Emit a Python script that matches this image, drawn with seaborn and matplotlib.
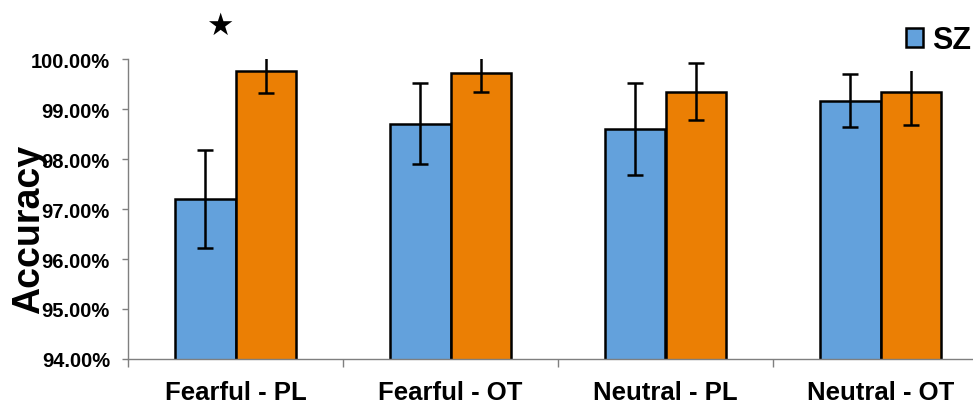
import numpy as np
import pandas as pd
import matplotlib
matplotlib.use("Agg")
import matplotlib.pyplot as plt
import matplotlib.ticker as mticker
from matplotlib.patches import Patch
import seaborn as sns

# данные
conditions = ["Fearful - PL", "Fearful - OT", "Neutral - PL", "Neutral - OT"]
groups = ["SZ", "HC"]
sz_acc = [97.20, 98.71, 98.61, 99.17]
sz_err = [0.98, 0.81, 0.92, 0.53]
hc_acc = [99.77, 99.72, 99.35, 99.35]
hc_err = [0.45, 0.37, 0.57, 0.66]
y_ticks = [94, 95, 96, 97, 98, 99, 100]

blue = "#63A1DC"
orange = "#EB7F04"

df = pd.DataFrame({
    "cond": conditions * 2,
    "group": ["SZ"] * 4 + ["HC"] * 4,
    "acc": sz_acc + hc_acc,
})

sns.set_style("white")
plt.rcParams["font.family"] = ["Liberation Sans", "DejaVu Sans"]
plt.rcParams["font.weight"] = "bold"
plt.rcParams["text.color"] = "black"
plt.rcParams["xtick.labelcolor"] = "black"
plt.rcParams["ytick.labelcolor"] = "black"

W, H = 973, 402
fig = plt.figure(figsize=(W / 100, H / 100), dpi=100)
# ось специально выходит за правый край, как на обрезанном оригинале
ax = fig.add_axes([128 / W, 1 - 360 / H, 860 / W, 300 / H])

sns.barplot(data=df, x="cond", y="acc", hue="group", order=conditions,
            hue_order=groups, palette=[blue, orange], saturation=1,
            width=0.567, gap=0, edgecolor="black", linewidth=1.8,
            errorbar=None, ax=ax)

# планки погрешностей
for cont, vals, errs in zip(ax.containers, [sz_acc, hc_acc], [sz_err, hc_err]):
    xs = [p.get_x() + p.get_width() / 2 for p in cont]
    ax.errorbar(xs, vals, yerr=errs, fmt="none", ecolor="black",
                elinewidth=1.8, capsize=5.5, capthick=1.8, zorder=5)

ax.set_xlim(-0.5, 3.5)
ax.set_ylim(94, 100)
ax.set_yticks(y_ticks)
ax.yaxis.set_major_formatter(mticker.FuncFormatter(lambda v, p: f"{v:.2f}%"))
ax.set_xlabel("")
ax.set_ylabel("")

for s in ["top", "right"]:
    ax.spines[s].set_visible(False)
for s in ["left", "bottom"]:
    ax.spines[s].set_color("#7f7f7f")
    ax.spines[s].set_linewidth(1.0)

ax.tick_params(axis="y", direction="out", length=4, width=1, color="#7f7f7f",
               left=True, pad=9, labelsize=14.5, labelcolor="black")
ax.set_xticks(np.arange(-0.5, 4.0, 1.0), minor=True)
ax.tick_params(axis="x", which="major", length=0, pad=15, labelsize=18.5,
               labelcolor="black")
ax.tick_params(axis="x", which="minor", direction="out", length=6, width=1,
               color="#7f7f7f", bottom=True)
for lab in ax.get_xticklabels() + ax.get_yticklabels():
    lab.set_fontweight("bold")

fig.text(29.5 / W, 1 - 229 / H, "Accuracy", rotation=90, ha="center",
         va="center", fontsize=27, fontweight="bold", color="black")

# звёздочка значимости
ax.text(-0.072, 100.68, "★", ha="center", va="center", fontsize=22,
        family="DejaVu Sans", color="black", clip_on=False)

handles = [Patch(facecolor=blue, edgecolor="black", linewidth=1.8),
           Patch(facecolor=orange, edgecolor="black", linewidth=1.8)]
leg = ax.legend(handles, groups, ncol=2, loc="upper left",
                bbox_to_anchor=(891 / W, 1 - 11 / H),
                bbox_transform=fig.transFigure,
                frameon=True, facecolor="white", edgecolor="none",
                framealpha=1, prop={"weight": "bold", "size": 22},
                handlelength=0.56, handleheight=0.56, handletextpad=0.3,
                borderpad=0.5, borderaxespad=0, columnspacing=1.0,
                fancybox=False)
leg.set_zorder(10)

fig.savefig("out.png", dpi=100)
